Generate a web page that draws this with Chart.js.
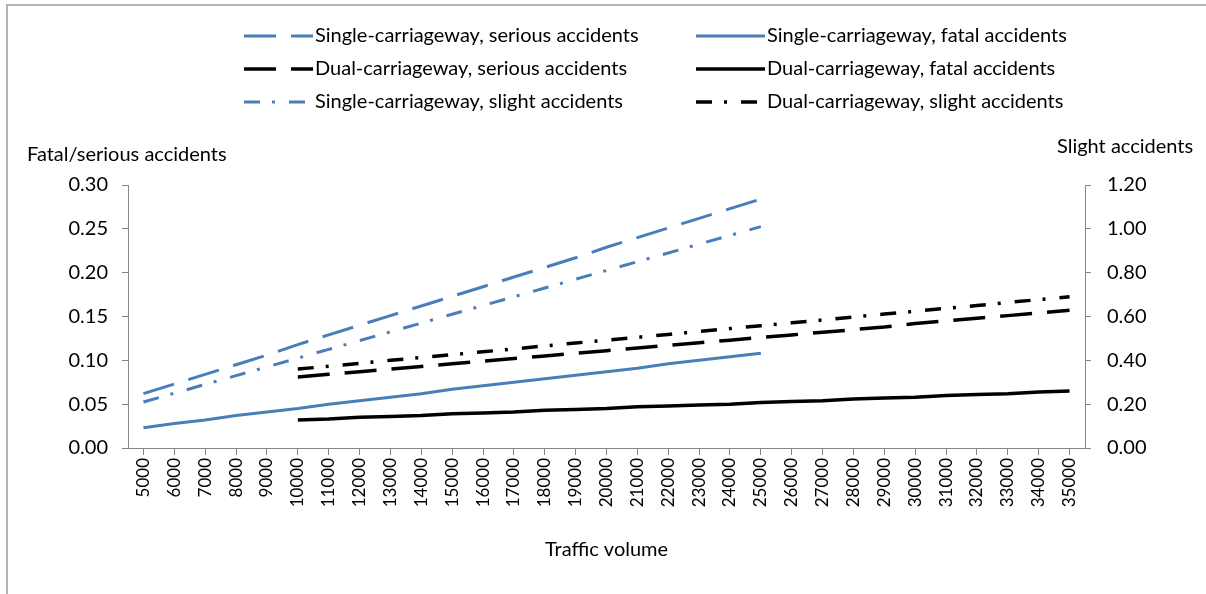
<!DOCTYPE html>
<html>
<head>
<meta charset="utf-8">
<script src="https://cdn.jsdelivr.net/npm/chart.js@4.4.0/dist/chart.umd.min.js"></script>
<style>
  html, body { margin: 0; padding: 0; background: #fff; }
  #wrap { position: relative; width: 1206px; height: 594px; overflow: hidden; }
  #frame { position: absolute; left: 6px; top: 4px; right: -10px; bottom: -10px;
           border-left: 2px solid #b4b4b4; border-top: 2px solid #b4b4b4; }
  canvas { position: absolute; left: 0; top: 0; }
</style>
</head>
<body>
<div id="wrap">
  <div id="frame"></div>
  <canvas id="chart" width="1206" height="594"></canvas>
</div>
<script>
// traffic volume categories
const volumes = ['5000', '6000', '7000', '8000', '9000', '10000', '11000', '12000', '13000', '14000',
  '15000', '16000', '17000', '18000', '19000', '20000', '21000', '22000', '23000', '24000', '25000',
  '26000', '27000', '28000', '29000', '30000', '31000', '32000', '33000', '34000', '35000'];

// single-carriageway: 5000 - 25000
const singleSerious = [0.062, 0.073, 0.084, 0.095, 0.106, 0.118, 0.129, 0.140, 0.151, 0.162, 0.173,
  0.184, 0.195, 0.206, 0.217, 0.229, 0.240, 0.251, 0.262, 0.273, 0.284];
const singleFatal = [0.023, 0.028, 0.032, 0.037, 0.041, 0.045, 0.050, 0.054, 0.058, 0.062, 0.067,
  0.071, 0.075, 0.079, 0.083, 0.087, 0.091, 0.096, 0.100, 0.104, 0.108];
const singleSlight = [0.21, 0.25, 0.29, 0.33, 0.37, 0.41, 0.45, 0.49, 0.53, 0.57, 0.61,
  0.65, 0.69, 0.73, 0.77, 0.81, 0.85, 0.89, 0.93, 0.97, 1.01];

// dual-carriageway: 10000 - 35000 (nothing below 10000)
const dualSerious = [null, null, null, null, null, 0.081, 0.084, 0.087, 0.090, 0.093, 0.096, 0.099,
  0.102, 0.105, 0.108, 0.111, 0.114, 0.117, 0.120, 0.123, 0.126, 0.129, 0.132, 0.135, 0.138,
  0.142, 0.145, 0.148, 0.151, 0.154, 0.157];
const dualFatal = [null, null, null, null, null, 0.032, 0.033, 0.035, 0.036, 0.037, 0.039, 0.040,
  0.041, 0.043, 0.044, 0.045, 0.047, 0.048, 0.049, 0.050, 0.052, 0.053, 0.054, 0.056, 0.057,
  0.058, 0.060, 0.061, 0.062, 0.064, 0.065];
const dualSlight = [null, null, null, null, null, 0.360, 0.373, 0.386, 0.400, 0.413, 0.426, 0.439,
  0.452, 0.466, 0.479, 0.492, 0.505, 0.518, 0.532, 0.545, 0.558, 0.571, 0.584, 0.598, 0.611,
  0.624, 0.637, 0.650, 0.664, 0.677, 0.690];

const BLUE = '#4a7ebb';
const BLACK = '#000000';
const LONG_DASH = [32, 15];
const DASH_DOT = [16, 12, 3, 14];
const FONT = 'Lato, "Open Sans", sans-serif';

function line(label, data, color, dash, axis, width) {
  return {
    label: label,
    data: data,
    yAxisID: axis,
    borderColor: color,
    backgroundColor: color,
    borderWidth: width,
    borderDash: dash,
    borderCapStyle: 'butt',
    pointRadius: 0,
    tension: 0,
    fill: false
  };
}

// legend in two columns plus the two axis headings
const extrasPlugin = {
  id: 'extras',
  afterDraw(chart) {
    const ctx = chart.ctx;
    const cols = [244, 696];
    const rows = [36, 69, 102];
    chart.data.datasets.forEach((ds, i) => {
      const x = cols[i % 2];
      const y = rows[Math.floor(i / 2)];
      ctx.save();
      ctx.strokeStyle = ds.borderColor;
      ctx.lineWidth = ds.borderWidth;
      ctx.lineCap = 'butt';
      ctx.setLineDash(ds.borderDash || []);
      ctx.beginPath();
      ctx.moveTo(x, y);
      ctx.lineTo(x + 69, y);
      ctx.stroke();
      ctx.setLineDash([]);
      ctx.fillStyle = '#000';
      ctx.font = '20px ' + FONT;
      ctx.textBaseline = 'middle';
      ctx.fillText(ds.label, x + 71, y);
      ctx.restore();
    });

    ctx.save();
    ctx.fillStyle = '#000';
    ctx.font = '20px ' + FONT;
    ctx.textBaseline = 'middle';
    ctx.fillText('Fatal/serious accidents', 27, 155);
    ctx.fillText('Slight accidents', 1057, 147);
    ctx.restore();
  }
};

const ctx = document.getElementById('chart').getContext('2d');
new Chart(ctx, {
  type: 'line',
  data: {
    labels: volumes,
    datasets: [
      line('Single-carriageway, serious accidents', singleSerious, BLUE, LONG_DASH, 'y', 3),
      line('Single-carriageway, fatal accidents', singleFatal, BLUE, [], 'y', 3),
      line('Dual-carriageway, serious accidents', dualSerious, BLACK, LONG_DASH, 'y', 3.5),
      line('Dual-carriageway, fatal accidents', dualFatal, BLACK, [], 'y', 3.5),
      line('Single-carriageway, slight accidents', singleSlight, BLUE, DASH_DOT, 'y1', 3),
      line('Dual-carriageway, slight accidents', dualSlight, BLACK, DASH_DOT, 'y1', 3.5)
    ]
  },
  options: {
    responsive: false,
    animation: false,
    spanGaps: false,
    layout: { padding: { top: 185, left: 0, right: 0, bottom: 0 } },
    plugins: {
      legend: { display: false },
      tooltip: { enabled: false }
    },
    scales: {
      x: {
        offset: true,
        grid: { display: true, drawOnChartArea: false, drawTicks: true, tickLength: 7, color: '#868686' },
        border: { color: '#868686', width: 1 },
        ticks: { minRotation: 90, maxRotation: 90, autoSkip: false, padding: 3,
                 color: '#000', font: { family: FONT, size: 17 } },
        title: { display: true, text: 'Traffic volume', color: '#000',
                 font: { family: FONT, size: 20 }, padding: { top: 0, bottom: 32 } },
        afterFit(scale) { scale.height = 146; }
      },
      y: {
        position: 'left',
        min: 0,
        max: 0.30,
        ticks: { stepSize: 0.05, padding: 14, color: '#000', font: { family: FONT, size: 20 },
                 callback: v => v.toFixed(2) },
        grid: { drawOnChartArea: false, drawTicks: true, tickLength: 6, color: '#868686' },
        border: { color: '#868686', width: 1 },
        afterFit(scale) { scale.width = 128; }
      },
      y1: {
        position: 'right',
        min: 0,
        max: 1.20,
        ticks: { stepSize: 0.20, padding: 16, color: '#000', font: { family: FONT, size: 20 },
                 callback: v => v.toFixed(2) },
        grid: { drawOnChartArea: false, drawTicks: true, tickLength: 6, color: '#868686' },
        border: { color: '#868686', width: 1 },
        afterFit(scale) { scale.width = 121; }
      }
    }
  },
  plugins: [extrasPlugin]
});
</script>
</body>
</html>
